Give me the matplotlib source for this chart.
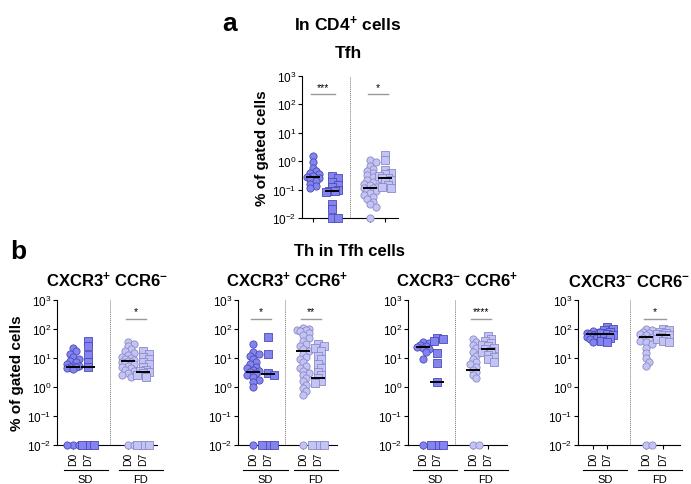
import numpy as np
import matplotlib
matplotlib.use('Agg')
import matplotlib.pyplot as plt

plt.rcParams['font.family'] = ['Liberation Sans', 'DejaVu Sans']
plt.rcParams['mathtext.fontset'] = 'custom'
plt.rcParams['mathtext.rm'] = 'Liberation Sans'
plt.rcParams['mathtext.bf'] = 'Liberation Sans:bold'
plt.rcParams['mathtext.default'] = 'regular'

# ---------------- data (values in % of gated cells, 0 = below detection) ----------------
tfh_sd_d0 = [1.5, 0.95, 0.6, 0.45, 0.4, 0.35, 0.3, 0.28, 0.26, 0.24, 0.2, 0.16, 0.13, 0.11]
tfh_sd_d7 = [0.3, 0.25, 0.18, 0.15, 0.12, 0.1, 0.09, 0.087, 0.08, 0.03, 0.02, 0.01, 0.01]
tfh_fd_d0 = [1.1, 0.9, 0.7, 0.55, 0.45, 0.38, 0.32, 0.27, 0.22, 0.19, 0.16, 0.14, 0.12,
             0.115, 0.11, 0.1, 0.09, 0.075, 0.065, 0.055, 0.045, 0.038, 0.03, 0.025, 0.01]
tfh_fd_d7 = [1.6, 1.1, 0.5, 0.4, 0.35, 0.3, 0.26, 0.25, 0.22, 0.18, 0.14, 0.12, 0.11]
tfh_medians = [0.27, 0.087, 0.115, 0.25]
tfh_sig = ['***', '*']

x3p6m_sd_d0 = [22, 17, 14, 11, 9, 8, 7, 6, 5.5, 5.2, 5, 4.8, 4.5, 4.2, 0, 0, 0]
x3p6m_sd_d7 = [40, 25, 13, 7.5, 5, 0, 0, 0]
x3p6m_fd_d0 = [35, 30, 25, 20, 17, 15, 13, 11, 10, 9, 8.5, 8, 7.5, 7, 6.5, 6, 5.5, 5,
               4.5, 4, 3.5, 3, 2.6, 2.2, 0, 0]
x3p6m_fd_d7 = [17, 14, 11, 9, 7, 6, 5, 4, 3.5, 3.2, 3, 2.6, 2.2, 0, 0, 0]
x3p6m_medians = [5.0, 5.0, 8.1, 3.2]
x3p6m_sig = [None, '*']

x3p6p_sd_d0 = [30, 16, 14, 12, 9, 7, 6, 5, 4.5, 4, 3.5, 3.3, 3, 2.6, 2.2, 1.8, 1.5, 1.0, 0]
x3p6p_sd_d7 = [55, 14, 3.0, 2.6, 0, 0, 0]
x3p6p_fd_d0 = [105, 100, 95, 90, 85, 75, 60, 50, 40, 30, 25, 20, 17, 14, 11, 9, 7, 5.5,
               4.5, 3.5, 3, 2.5, 2, 1.6, 1.2, 0.9, 0.7, 0.55, 0]
x3p6p_fd_d7 = [30, 25, 22, 18, 12, 9, 6, 4.5, 3.2, 2.5, 2.0, 1.6, 1.4, 0, 0, 0]
x3p6p_medians = [3.4, 2.8, 17, 2.0]
x3p6p_sig = ['*', '**']

x3m6p_sd_d0 = [35, 32, 28, 26, 24, 22, 20, 16, 9.5, 0]
x3m6p_sd_d7 = [50, 45, 40, 15, 6.8, 1.5, 0, 0, 0]
x3m6p_fd_d0 = [45, 35, 28, 22, 16, 12, 9, 7, 6, 5, 4, 3.2, 2.5, 2.0, 0, 0]
x3m6p_fd_d7 = [58, 45, 38, 32, 28, 25, 22, 20, 18, 16, 13, 11, 9, 7.5]
x3m6p_medians = [24, 1.5, 3.8, 21]
x3m6p_sig = [None, '****']

x3m6m_sd_d0 = [85, 78, 72, 68, 65, 62, 58, 55, 50, 45, 40, 36]
x3m6m_sd_d7 = [115, 100, 90, 80, 72, 68, 62, 55, 48, 40, 36]
x3m6m_fd_d0 = [100, 90, 80, 72, 65, 60, 55, 50, 45, 40, 35, 30, 22, 15, 10, 7.5, 5.4, 0, 0]
x3m6m_fd_d7 = [100, 90, 80, 72, 68, 64, 60, 55, 50, 45, 40, 35]
x3m6m_medians = [68, 68, 52, 63]
x3m6m_sig = [None, '*']

tick_names = ['D0', 'D7', 'D0', 'D7']
group_names = ['SD', 'FD']

# ---------------- styling ----------------
W, H = 691, 485
SD_FILL, SD_EDGE = '#8484ee', '#4a4ab8'
FD_FILL, FD_EDGE = '#c4c4f4', '#8a8ac8'
DIAM = 7.0  # marker diameter in px

fig = plt.figure(figsize=(W / 100, H / 100), dpi=100)


def px_axes(left, right, top, bottom):
    return fig.add_axes([left / W, (H - bottom) / H, (right - left) / W, (bottom - top) / H])


def swarm(vals, ppd):
    # compact beeswarm in pixel space, points may overlap a fair bit
    ys = np.log10(np.maximum(np.array(vals, float), 0.01)) * ppd
    order = np.argsort(-ys)
    xs = np.zeros(len(ys))
    placed = []
    step = DIAM * 0.45
    cands = [0.0, step, -step, 2 * step, -2 * step]
    for i in order:
        best, best_d = 0.0, -1
        for c in cands:
            if not placed:
                best = c
                break
            d = min(np.hypot(c - px, ys[i] - py) for px, py in placed)
            if d >= DIAM * 0.6:
                best = c
                break
            if d > best_d:
                best_d, best = d, c
        xs[i] = best
        placed.append((best, ys[i]))
    return xs


def draw_panel(ax, width, ticks, divider, groups, medians, sigs, ppd, xlabels):
    ax.set_yscale('log')
    ax.set_ylim(0.01, 1000)
    ax.set_xlim(0, width)
    ax.set_yticks([1e-2, 1e-1, 1e0, 1e1, 1e2, 1e3])
    ax.minorticks_off()
    ax.tick_params(axis='y', labelsize=8.5, length=3, width=0.8, pad=1)
    ax.set_yticklabels([r'$10^{%d}$' % e for e in range(-2, 4)])
    ax.set_xticks(ticks)
    ax.tick_params(axis='x', length=3, width=0.8, pad=2)
    if xlabels:
        ax.set_xticklabels(tick_names, rotation=90, fontsize=7.5)
    else:
        ax.set_xticklabels([])
    for s in ['top', 'right']:
        ax.spines[s].set_visible(False)
    ax.spines['left'].set_linewidth(0.8)
    ax.spines['bottom'].set_linewidth(0.8)
    ax.axvline(divider, color='#777777', ls=(0, (1, 1)), lw=0.7)

    for gi, vals in enumerate(groups):
        sd = gi < 2
        fill = SD_FILL if sd else FD_FILL
        edge = SD_EDGE if sd else FD_EDGE
        mk = 'o' if gi % 2 == 0 else 's'
        xs = swarm(vals, ppd) + ticks[gi]
        yv = np.maximum(np.array(vals, float), 0.01)
        ax.scatter(xs, yv, s=27 if mk == 'o' else 26, marker=mk, facecolor=fill,
                   edgecolor=edge, linewidth=0.6, clip_on=False, zorder=3)
        ax.plot([ticks[gi] - 7, ticks[gi] + 7], [medians[gi], medians[gi]], color='black',
                lw=1.4, zorder=4, solid_capstyle='butt')

    for si, lab in enumerate(sigs):
        if lab is None:
            continue
        t1, t2 = ticks[2 * si], ticks[2 * si + 1]
        ax.plot([t1 - 2, t2 + 3], [230, 230], color='#999999', lw=1, clip_on=False)
        ax.text((t1 + t2) / 2 + 0.5, 270, lab, ha='center', va='bottom', fontsize=7.5)


# ---------------- panel a ----------------
ax_a = px_axes(302, 398, 77, 219)
draw_panel(ax_a, 96, [11, 30, 68, 83], 48, [tfh_sd_d0, tfh_sd_d7, tfh_fd_d0, tfh_fd_d7],
           tfh_medians, tfh_sig, 28.4, False)
ax_a.set_ylabel('% of gated cells', fontsize=11, fontweight='bold', labelpad=2)
fig.text(230 / W, 1 - 24 / H, 'a', fontsize=19, fontweight='bold', ha='center', va='center')
fig.text(348 / W, 1 - 24 / H, r'In CD4$^{\mathbf{+}}$ cells', fontsize=12.5, fontweight='bold',
         ha='center', va='center')
fig.text(348 / W, 1 - 54 / H, 'Tfh', fontsize=12.5, fontweight='bold', ha='center', va='center')

# ---------------- panel b ----------------
fig.text(18 / W, 1 - 252 / H, 'b', fontsize=19, fontweight='bold', ha='center', va='center')
fig.text(349 / W, 1 - 251 / H, 'Th in Tfh cells', fontsize=12, fontweight='bold',
         ha='center', va='center')

panels = [
    (57, 157, [16, 31, 71, 86], 53, [x3p6m_sd_d0, x3p6m_sd_d7, x3p6m_fd_d0, x3p6m_fd_d7],
     x3p6m_medians, x3p6m_sig, r'CXCR3$^{\mathbf{+}}$ CCR6$^{\mathbf{-}}$'),
    (238, 337, [15, 30, 65, 80], 47, [x3p6p_sd_d0, x3p6p_sd_d7, x3p6p_fd_d0, x3p6p_fd_d7],
     x3p6p_medians, x3p6p_sig, r'CXCR3$^{\mathbf{+}}$ CCR6$^{\mathbf{+}}$'),
    (408, 507, [15, 29, 65, 80], 47, [x3m6p_sd_d0, x3m6p_sd_d7, x3m6p_fd_d0, x3m6p_fd_d7],
     x3m6p_medians, x3m6p_sig, r'CXCR3$^{\mathbf{-}}$ CCR6$^{\mathbf{+}}$'),
    (578, 680, [15, 29, 68, 85], 52, [x3m6m_sd_d0, x3m6m_sd_d7, x3m6m_fd_d0, x3m6m_fd_d7],
     x3m6m_medians, x3m6m_sig, r'CXCR3$^{\mathbf{-}}$ CCR6$^{\mathbf{-}}$'),
]

for i, (l, r, ticks, div, groups, meds, sigs, title) in enumerate(panels):
    ax = px_axes(l, r, 301, 446)
    draw_panel(ax, r - l, ticks, div, groups, meds, sigs, 29.0, True)
    ax.set_title(title, fontsize=12, fontweight='bold', pad=10)
    if i == 0:
        ax.set_ylabel('% of gated cells', fontsize=11, fontweight='bold', labelpad=2)
    # SD / FD group brackets below the tick labels
    for gi, name in enumerate(group_names):
        c = (ticks[2 * gi] + ticks[2 * gi + 1]) / 2 + 5
        x0 = (l + c - 22) / W
        x1 = (l + c + 22) / W
        fig.add_artist(plt.Line2D([x0, x1], [1 - 471 / H, 1 - 471 / H], color='black', lw=0.8))
        fig.text((l + c) / W, 1 - 480 / H, name, fontsize=8, ha='center', va='center')

fig.savefig('out.png', dpi=100)
